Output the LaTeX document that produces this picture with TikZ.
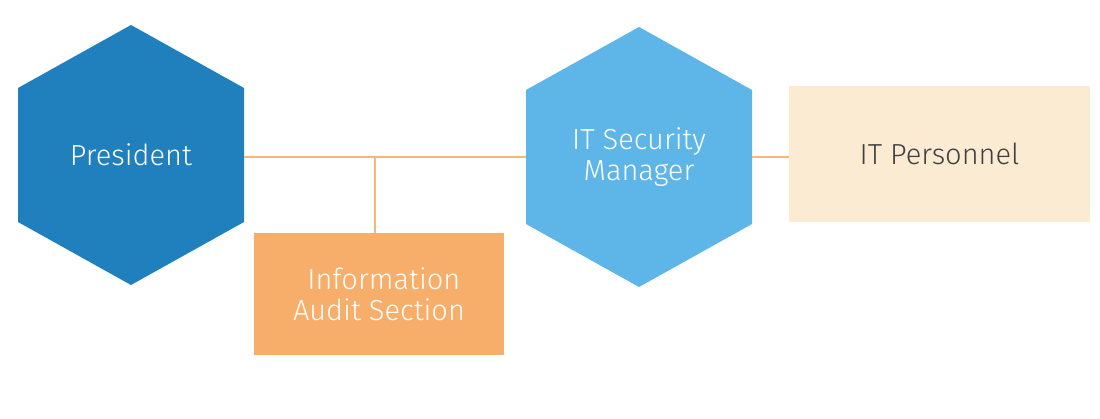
\documentclass[tikz,border=0pt]{standalone}
\usepackage{fontspec}
\setmainfont{Fira Sans Light}
\begin{document}
\begin{tikzpicture}[x=1pt,y=-1pt,
  pres/.style={fill={rgb,255:red,32;green,128;blue,190}},
  mgr/.style={fill={rgb,255:red,93;green,181;blue,232}},
  lbl/.style={text=white,font=\fontsize{29}{31}\selectfont,align=center},
  conn/.style={draw={rgb,255:red,246;green,183;blue,119},line width=1.6pt}]
\useasboundingbox (0,0) rectangle (1100,419);
% hexagons
\fill[pres] (131,25)--(244,88)--(244,222)--(131,285)--(18,222)--(18,88)--cycle;
\fill[mgr] (639,27)--(752,90)--(752,224)--(639,287)--(526,224)--(526,90)--cycle;
\node[lbl,minimum width=226pt,minimum height=134pt,inner sep=0] (p) at (131,155) {President};
\node[lbl,minimum width=226pt,minimum height=134pt,inner sep=0] (m) at (639,157) {IT Security\\Manager};
\node[lbl,fill={rgb,255:red,246;green,174;blue,106},minimum width=250pt,minimum height=122pt,inner sep=0] (a) at (379,294) {\,\,Information\\Audit Section};
\node[font=\fontsize{29}{31}\selectfont,text={rgb,255:red,64;green,64;blue,64},fill={rgb,255:red,252;green,235;blue,211},minimum width=301pt,minimum height=136pt,inner sep=0] (t) at (939.5,154) {IT Personnel};
\coordinate (j) at (375,157);
\draw[conn] (244,157) -- (526,157);
\draw[conn] (j) -- (a.north -| j);
\draw[conn] (752,157) -- (789,157);
\end{tikzpicture}
\end{document}
